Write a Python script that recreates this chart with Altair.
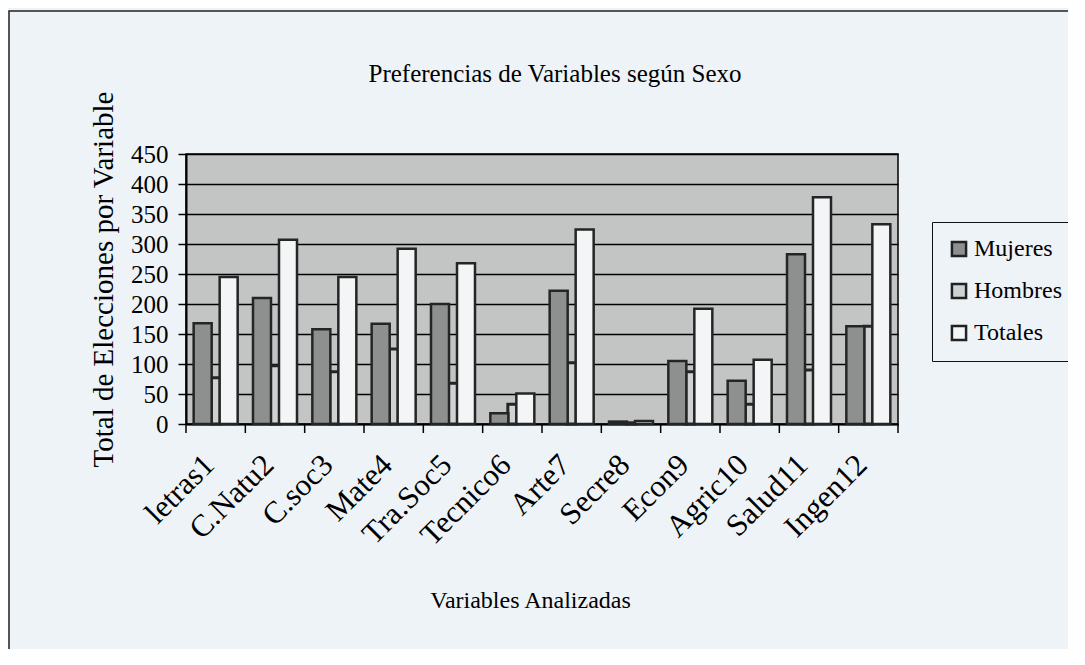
import altair as alt
import pandas as pd

categorias = ["letras1", "C.Natu2", "C.soc3", "Mate4", "Tra.Soc5", "Tecnico6",
              "Arte7", "Secre8", "Econ9", "Agric10", "Salud11", "Ingen12"]
mujeres = [168, 210, 158, 167, 200, 18, 222, 4, 105, 72, 283, 163]
hombres = [77, 97, 87, 125, 68, 33, 102, 2, 87, 33, 90, 163]
totales = [245, 307, 245, 292, 268, 51, 324, 5, 192, 107, 378, 333]
series = ["Mujeres", "Hombres", "Totales"]
colores = ["#8e9090", "#cfd2d2", "#f3f5f7"]
y_ticks = [0, 50, 100, 150, 200, 250, 300, 350, 400, 450]

rows = []
for s, vals in zip(series, [mujeres, hombres, totales]):
    for c, v in zip(categorias, vals):
        rows.append({"cat": c, "serie": s, "valor": v})
df = pd.DataFrame(rows)
df_cats = pd.DataFrame({"cat": categorias})

FONT = "Liberation Serif"
W, H = 712, 270

xscale = alt.Scale(domain=categorias, paddingInner=0, paddingOuter=0)
yscale = alt.Scale(domain=[0, 450], nice=False)
legend = alt.Legend(title=None, orient="none", legendX=746, legendY=68,
                    strokeColor="#111", fillColor="#eef3f7", padding=15,
                    symbolType="square", symbolSize=200,
                    symbolStrokeColor="#222", symbolStrokeWidth=2.5,
                    labelFont=FONT, labelFontSize=24, labelColor="black",
                    rowPadding=16, labelOffset=3)
color = alt.Color("serie:N", scale=alt.Scale(domain=series, range=colores), legend=legend)

x_axis = alt.Axis(title="Variables Analizadas", labelAngle=-45, labelFont=FONT,
                  labelFontSize=31, labelColor="black", ticks=False, labelPadding=36,
                  labelOffset=-6, labelAlign="right", labelBaseline="middle",
                  domainColor="black", domainWidth=2, titleFont=FONT, titleFontSize=24,
                  titleFontWeight="normal", titleColor="black", titleX=344, titleY=176,
                  titleBaseline="middle", titleAlign="center")
y_axis = alt.Axis(title="Total de Elecciones por Variable", values=y_ticks, labelFont=FONT,
                  labelFontSize=25, labelColor="black", labelPadding=10, tickSize=8,
                  tickColor="black", tickWidth=1.5, domainColor="black", domainWidth=2,
                  grid=True, gridColor="black", gridWidth=1.5, gridOpacity=1,
                  titleFont=FONT, titleFontSize=29, titleFontWeight="normal",
                  titleColor="black", titleAngle=-90, titleX=-83, titleY=125,
                  titleAlign="center", titleBaseline="middle")

X = alt.X("cat:N", sort=categorias, scale=xscale, axis=x_axis, title="Variables Analizadas")


def bars(serie, width, offset, sw):
    return alt.Chart(df).transform_filter(alt.datum.serie == serie).mark_bar(
        width=width, xOffset=offset, stroke="#252525", strokeWidth=sw
    ).encode(
        x=X,
        y=alt.Y("valor:Q", scale=yscale, axis=y_axis,
                title="Total de Elecciones por Variable"),
        color=color,
    )


hom = bars("Hombres", 9, 0, 3)
muj = bars("Mujeres", 18, -13, 2.5)
tot = bars("Totales", 18, 13, 2.5)

ticks0 = alt.Chart(df_cats).mark_rule(color="black", strokeWidth=1.5).encode(
    x=alt.X("cat:N", sort=categorias, scale=xscale, bandPosition=0, axis=x_axis,
            title="Variables Analizadas"),
    y=alt.value(H), y2=alt.value(H + 9))
ticks1 = alt.Chart(df_cats).transform_filter(alt.datum.cat == categorias[-1]).mark_rule(
    color="black", strokeWidth=1.5).encode(
    x=alt.X("cat:N", sort=categorias, scale=xscale, bandPosition=1, axis=x_axis,
            title="Variables Analizadas"),
    y=alt.value(H), y2=alt.value(H + 9))

frame = alt.Chart(pd.DataFrame({"k": [0]})).mark_rect(
    fillOpacity=0, stroke="#222", strokeWidth=1.5, clip=False).encode(
    x=alt.value(-177), x2=alt.value(905), y=alt.value(-143), y2=alt.value(500))

chart = alt.layer(hom, muj, tot, ticks0, ticks1, frame).properties(
    width=W, height=H,
    autosize=alt.AutoSizeParams(type="none"),
    padding={"left": 178, "top": 146, "right": 170, "bottom": 225},
    title=alt.TitleParams("Preferencias de Variables según Sexo", font=FONT, fontSize=25,
                          fontWeight="normal", color="black", anchor="middle",
                          frame="group", offset=-97, dx=13, baseline="alphabetic"),
).configure(background="#eef3f7", font=FONT).configure_view(
    fill="#c3c5c5", stroke="black", strokeWidth=1.5)

chart.save("out.html", embed_options={"renderer": "svg", "actions": False})
